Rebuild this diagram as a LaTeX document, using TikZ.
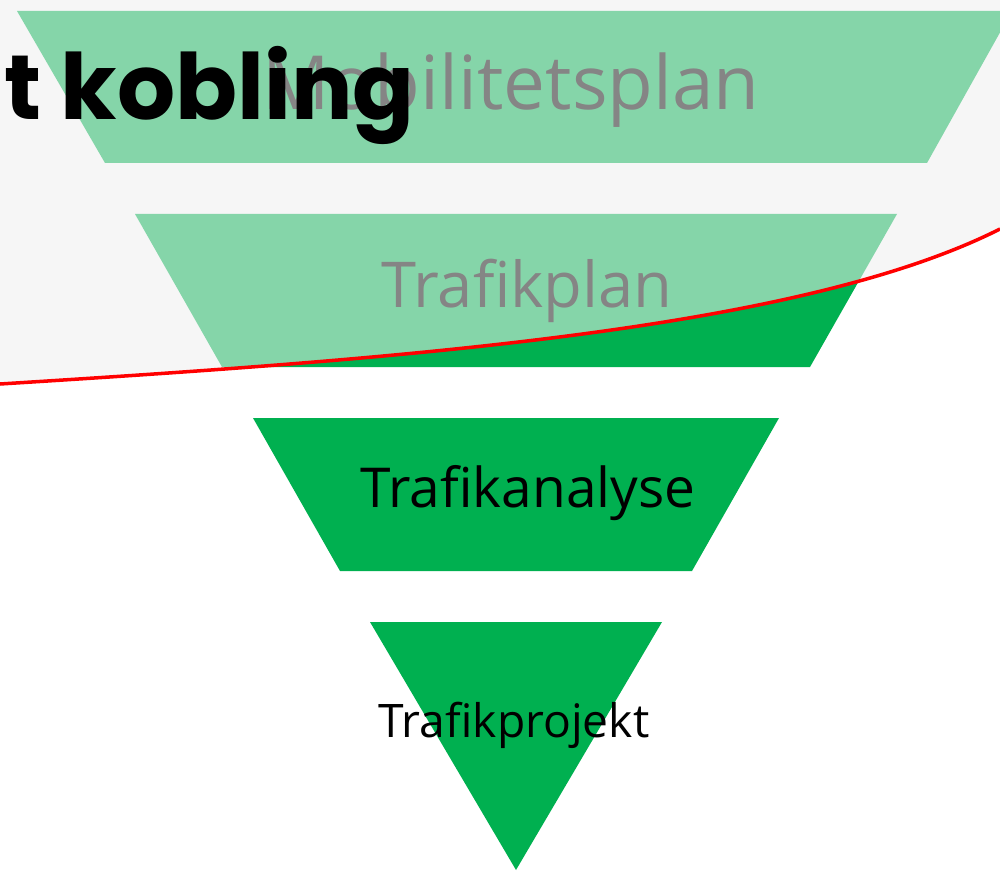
\documentclass[tikz,border=0pt]{standalone}
\usepackage{fontspec}
\setmainfont{Open Sans}
\newfontfamily\titlefont{Poppins}
\definecolor{fgreen}{HTML}{00B050}
\definecolor{haze}{HTML}{F6F6F6}
\tikzset{
  level/.style={fill=fgreen, draw=none},
  lbl/.style={anchor=base, inner sep=0pt, text=black},
}
\begin{document}
\begin{tikzpicture}[x=0.02cm,y=-0.02cm]
\useasboundingbox (0,0) rectangle (1000,871);
\fill[white] (0,0) rectangle (1000,871);
% hazy region above the curve
\fill[haze] (0,0) -- (1000,0) -- (1000,229) .. controls (800,330) and (400,359) .. (0,384) -- cycle;
% funnel levels
\fill[level] (17,11) -- (1012,11) -- (927,163) -- (105,163) -- cycle;
\fill[level] (135,214) -- (897,214) -- (810,367) -- (222,367) -- cycle;
\fill[level] (253,418) -- (779,418) -- (692,571) -- (340,571) -- cycle;
\fill[level] (370,622) -- (662,622) -- (516,870) -- cycle;
% labels
\node[lbl, font=\fontsize{42.5}{50}\selectfont] (mob) at (511,110) {Mobilitetsplan};
\node[lbl, font=\fontsize{36}{42}\selectfont] (tplan) at (527,308) {Trafikplan};
\node[lbl, font=\fontsize{31.3}{37}\selectfont] (tana) at (528,507) {Trafikanalyse};
\node[lbl, font=\fontsize{26.3}{32}\selectfont] (tproj) at (514,737) {Trafikprojekt};
% translucent overlay
\fill[haze, fill opacity=0.54] (0,0) -- (1000,0) -- (1000,229) .. controls (800,330) and (400,359) .. (0,384) -- cycle;
% red curve
\coordinate (cl) at (0,384);
\coordinate (cr) at (1000,229);
\draw[red, line width=2pt] (cl) .. controls (400,359) and (800,330) .. (cr);
% title fragment
\node[anchor=base west, inner sep=0pt, font=\titlefont\bfseries\fontsize{52}{60}\selectfont] (title) at (4,120) {t kobling};
\end{tikzpicture}
\end{document}
